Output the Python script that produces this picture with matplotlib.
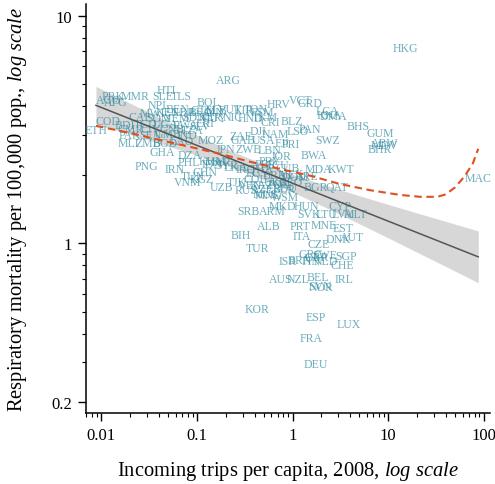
import numpy as np
import matplotlib
matplotlib.use("Agg")
import matplotlib.pyplot as plt
from matplotlib.ticker import LogLocator, NullFormatter

plt.rcParams["font.family"] = ["Liberation Serif", "DejaVu Serif"]
plt.rcParams["mathtext.fontset"] = "custom"
plt.rcParams["mathtext.rm"] = "Liberation Serif"
plt.rcParams["mathtext.it"] = "Liberation Serif:italic"

# country codes, incoming trips per capita (2008), respiratory deaths per 100k
codes = [
    "HKG", "ARG", "HTI", "SLE", "TLS", "PRK", "MMR", "AGO", "AFG", "NPL",
    "BEN", "MWI", "KEN", "LBR", "BFA", "GIN", "CAF", "SOM", "YEM", "SDN",
    "NER", "COD", "BDI", "TCD", "UGA", "RWA", "ERI", "ETH", "CMR", "CIV",
    "GNB", "TZA", "PAK", "SEN", "GMB", "IND", "MLI", "ZMB", "BGD", "LAO",
    "GHA", "DZA", "PNG", "PHL", "IRN", "KHM", "MAR", "SYR", "CHN", "TUN",
    "KGZ", "VNM", "UZB", "TJK", "RUS", "AZE", "MNG", "KAZ", "UKR", "GEO",
    "BLR", "WSM", "MUS", "POL", "ROU", "BGR", "QAT", "ARE", "MDA", "KWT",
    "BWA", "JOR", "JPN", "ZWE", "LBN", "PRI", "FJI", "USA", "GAB", "MOZ",
    "ZAF", "DJI", "NAM", "LSO", "PAN", "SWZ", "CRI", "BLZ", "HRV", "VCT",
    "GRD", "LCA", "KNA", "DMA", "BHS", "GUM", "ABW", "BHR", "MDV", "MAC",
    "BOL", "GTM", "SLB", "VUT", "KIR", "TON", "FSM", "GUY", "NIC", "HND",
    "TKM", "SLV", "ECU", "PER", "CUB", "PRY", "EGY", "IRQ", "BRA", "MEX",
    "COL", "DOM", "THA", "IDN", "LKA", "VEN", "SRB", "ARM", "MKD", "HUN",
    "CYP", "SVK", "LTU", "LVA", "MLT", "ALB", "PRT", "MNE", "EST", "BIH",
    "ITA", "DNK", "AUT", "TUR", "CZE", "GRC", "SWE", "GBR", "SGP", "ISR",
    "BRN", "FIN", "NLD", "CHE", "AUS", "NZL", "BEL", "IRL", "SVN", "NOR",
    "KOR", "ESP", "LUX", "FRA", "DEU",
]
trips = [
    15.1, 0.213, 0.048, 0.044, 0.068, 0.0133, 0.0227, 0.0118, 0.0140, 0.040,
    0.062, 0.034, 0.050, 0.074, 0.106, 0.150, 0.0256, 0.040, 0.062, 0.094,
    0.138, 0.0118, 0.0178, 0.0289, 0.0467, 0.0756, 0.122, 0.0088, 0.0201, 0.0325,
    0.0553, 0.089, 0.0201, 0.0325, 0.050, 0.078, 0.0192, 0.031, 0.0467, 0.070,
    0.043, 0.085, 0.030, 0.083, 0.058, 0.145, 0.167, 0.207, 0.122, 0.091,
    0.111, 0.080, 0.183, 0.262, 0.33, 0.48, 0.56, 0.48, 0.675, 0.946,
    0.82, 0.84, 0.52, 0.71, 0.84, 1.73, 2.93, 1.42, 1.86, 3.22,
    1.65, 0.76, 0.20, 0.345, 0.57, 0.946, 0.78, 0.494, 0.305, 0.138,
    0.284, 0.437, 0.659, 1.12, 1.53, 2.31, 0.585, 0.99, 0.71, 1.20,
    1.53, 2.31, 2.42, 2.67, 4.87, 8.26, 9.1, 8.26, 9.1, 87.4,
    0.132, 0.116, 0.160, 0.223, 0.305, 0.416, 0.48, 0.152, 0.234, 0.361,
    0.518, 0.108, 0.69, 0.518, 0.90, 0.585, 0.437, 0.32, 0.659, 0.946,
    0.407, 1.07, 0.48, 0.145, 0.252, 0.361, 0.345, 0.613, 0.79, 1.39,
    3.15, 1.49, 2.25, 3.31, 4.52, 0.56, 1.20, 2.10, 3.39, 0.284,
    1.26, 3.0, 4.2, 0.427, 1.86, 1.53, 2.15, 1.77, 3.64, 0.88,
    1.20, 1.57, 2.25, 3.31, 0.743, 1.15, 1.86, 3.47, 1.95, 2.0,
    0.427, 1.73, 3.83, 1.57, 1.73,
]
mortality = [
    7.2, 5.22, 4.72, 4.44, 4.44, 4.44, 4.44, 4.27, 4.18, 4.05,
    3.89, 3.74, 3.78, 3.78, 3.78, 3.78, 3.59, 3.55, 3.55, 3.59,
    3.59, 3.45, 3.30, 3.34, 3.34, 3.30, 3.38, 3.15, 3.18, 3.18,
    3.18, 3.15, 2.99, 2.99, 3.02, 2.99, 2.77, 2.77, 2.77, 2.82,
    2.52, 2.45, 2.19, 2.28, 2.12, 2.30, 2.28, 2.21, 2.06, 1.98,
    1.92, 1.86, 1.77, 1.86, 1.71, 1.73, 1.63, 1.80, 1.86, 1.86,
    1.73, 1.60, 1.65, 1.82, 1.75, 1.77, 1.77, 1.98, 2.12, 2.12,
    2.45, 2.42, 2.60, 2.60, 2.57, 2.73, 2.76, 2.84, 2.84, 2.84,
    2.97, 3.12, 3.02, 3.10, 3.18, 2.84, 3.41, 3.45, 4.09, 4.27,
    4.13, 3.81, 3.66, 3.62, 3.27, 3.06, 2.76, 2.60, 2.70, 1.94,
    4.18, 3.85, 3.85, 3.89, 3.85, 3.89, 3.78, 3.55, 3.59, 3.55,
    3.59, 3.27, 2.21, 2.23, 2.15, 2.30, 2.04, 2.12, 2.00, 2.02,
    1.92, 1.96, 2.12, 2.23, 2.16, 1.80, 1.38, 1.38, 1.46, 1.46,
    1.46, 1.35, 1.35, 1.35, 1.35, 1.19, 1.19, 1.20, 1.17, 1.09,
    1.08, 1.04, 1.07, 0.95, 0.99, 0.90, 0.89, 0.87, 0.88, 0.84,
    0.845, 0.84, 0.84, 0.80, 0.70, 0.70, 0.71, 0.70, 0.65, 0.64,
    0.515, 0.475, 0.44, 0.385, 0.295,
]

# local (loess) trend
smooth_trips = [0.0088, 0.0201, 0.0414, 0.0852, 0.175, 0.361, 0.743, 1.53,
                3.15, 6.49, 13.4, 21.6, 32.6, 40.0, 50.0, 63.0, 77.0, 87.4]
smooth_mortality = [3.28, 3.05, 2.84, 2.65, 2.47, 2.28, 2.12, 1.98,
                    1.82, 1.71, 1.63, 1.60, 1.60, 1.64, 1.76, 1.97, 2.25, 2.60]

x_ticks = [0.01, 0.1, 1, 10, 100]
x_tick_labels = ["0.01", "0.1", "1", "10", "100"]
y_ticks = [0.2, 1, 10]
y_tick_labels = ["0.2", "1", "10"]

TEAL = "#2f8aa0"
SMOOTH = "#e0501e"


def lm_band(lx, ly, grid, level_t=1.974):
    """OLS fit in log-log space with confidence band for the mean."""
    n = len(lx)
    b, a = np.polyfit(lx, ly, 1)
    resid = ly - (a + b * lx)
    s = np.sqrt(np.sum(resid ** 2) / (n - 2))
    sxx = np.sum((lx - lx.mean()) ** 2)
    fit = a + b * grid
    se = s * np.sqrt(1 / n + (grid - lx.mean()) ** 2 / sxx)
    return fit, fit - level_t * se, fit + level_t * se


lx = np.log10(trips)
ly = np.log10(mortality)
grid = np.linspace(lx.min(), lx.max(), 80)
fit, lo, hi = lm_band(lx, ly, grid)

fig = plt.figure(figsize=(4.95, 4.85), dpi=100)
ax = fig.add_axes([86 / 495, 1 - 414 / 485, 404 / 495, 409 / 485])
ax.set_xscale("log")
ax.set_yscale("log")
ax.set_xlim(0.00692, 116)
ax.set_ylim(0.1796, 11.25)

for c, xv, yv in zip(codes, trips, mortality):
    ax.text(xv, yv, c, ha="center", va="center", fontsize=8.5,
            color=TEAL, alpha=0.7, zorder=3)

ax.fill_between(10 ** grid, 10 ** lo, 10 ** hi, color="#bdbdbd",
                alpha=0.6, lw=0, zorder=2)
ax.plot(10 ** grid, 10 ** fit, color="#555555", lw=1.1, zorder=4)
ax.plot(smooth_trips, smooth_mortality, color=SMOOTH, lw=1.5,
        dashes=(3.6, 2.2), zorder=5)

for side in ("top", "right"):
    ax.spines[side].set_visible(False)
for side in ("left", "bottom"):
    ax.spines[side].set_linewidth(1.1)

ax.set_xticks(x_ticks, x_tick_labels)
ax.set_yticks(y_ticks, y_tick_labels)
ax.xaxis.set_minor_locator(LogLocator(base=10, subs=np.arange(2, 10)))
ax.yaxis.set_minor_locator(LogLocator(base=10, subs=np.arange(2, 10)))
ax.xaxis.set_minor_formatter(NullFormatter())
ax.yaxis.set_minor_formatter(NullFormatter())
ax.tick_params(which="major", length=6, width=1.0, labelsize=12, pad=4)
ax.tick_params(which="minor", length=3, width=0.8)

ax.set_xlabel("Incoming trips per capita, 2008, $\\mathit{log\\ scale}$",
              fontsize=14.8)
ax.set_ylabel("Respiratory mortality per 100,000 pop., $\\mathit{log\\ scale}$",
              fontsize=14.8)
ax.xaxis.set_label_coords(0.5, -0.113)
ax.yaxis.set_label_coords(-0.14, 0.5)

fig.savefig("out.png", dpi=100)
